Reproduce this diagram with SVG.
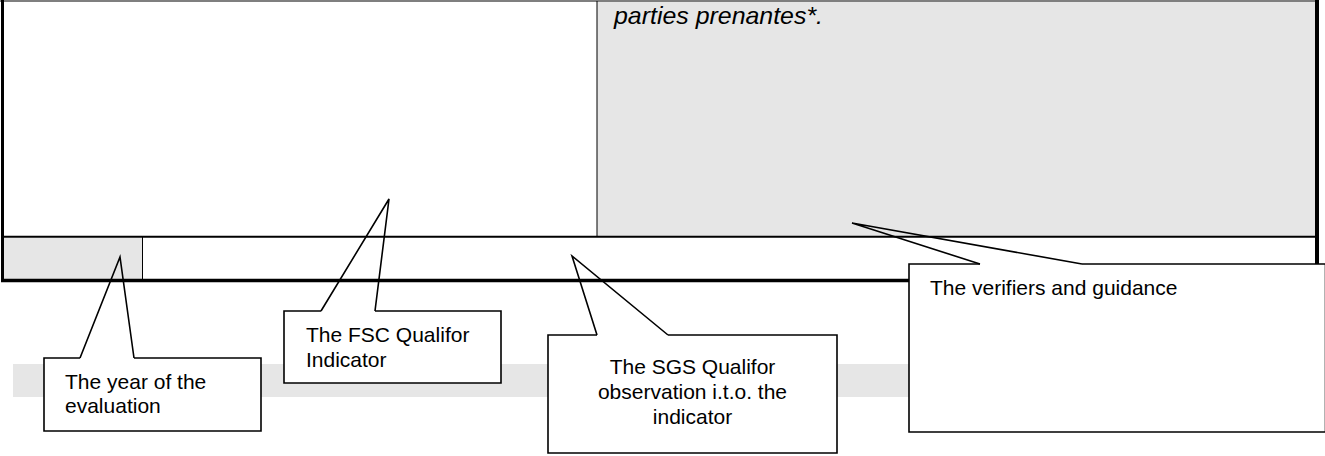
<svg xmlns="http://www.w3.org/2000/svg" width="1325" height="456" viewBox="0 0 1325 456">
<style>
.t{font-family:"Liberation Sans",Arial,sans-serif;font-size:21px;fill:#000}
.it{font-family:"Liberation Sans",Arial,sans-serif;font-size:24px;font-style:italic;fill:#000}
.gray{fill:#e6e6e6}
.box{fill:#fff;stroke:none}
.outline{fill:none;stroke:#000;stroke-width:1.6;stroke-linejoin:miter}
.ptr{fill:none;stroke:#000;stroke-width:1.6;stroke-linejoin:miter}
</style>
<rect width="1325" height="456" fill="#fff"/>
<g id="table">
  <rect class="gray" x="597" y="2" width="718" height="235"/>
  <rect class="gray" x="4" y="238" width="139" height="41"/>
  <rect class="gray" x="13" y="364" width="1000" height="33"/>
  <line x1="0" y1="1" x2="1319" y2="1" stroke="#000" stroke-width="1.2"/>
  <line x1="597" y1="1" x2="597" y2="237" stroke="#000" stroke-width="1"/>
  <line x1="142.5" y1="237" x2="142.5" y2="280" stroke="#000" stroke-width="1"/>
  <line x1="3" y1="236.8" x2="1317" y2="236.8" stroke="#000" stroke-width="2"/>
  <line x1="2.5" y1="0" x2="2.5" y2="282" stroke="#000" stroke-width="3"/>
  <line x1="1317" y1="0" x2="1317" y2="282" stroke="#000" stroke-width="4"/>
  <line x1="1" y1="280.5" x2="1319" y2="280.5" stroke="#000" stroke-width="3.5"/>
  <text class="it" x="614" y="24" textLength="209" lengthAdjust="spacingAndGlyphs">parties prenantes*.</text>
</g>
<g id="callout-year">
  <rect class="box" x="44" y="358" width="217" height="73"/>
  <path class="outline" d="M80,358 L44,358 L44,431 L261,431 L261,358 L134,358"/>
  <text class="t" x="65" y="389">The year of the</text>
  <text class="t" x="65" y="413">evaluation</text>
</g>
<g id="callout-fsc">
  <rect class="box" x="284" y="311" width="217" height="72"/>
  <path class="outline" d="M321,311 L284,311 L284,383 L501,383 L501,311 L375,311"/>
  <text class="t" x="306" y="342">The FSC Qualifor</text>
  <text class="t" x="306" y="367">Indicator</text>
</g>
<g id="callout-sgs">
  <rect class="box" x="548" y="335" width="289" height="118"/>
  <path class="outline" d="M597,335 L548,335 L548,453 L837,453 L837,335 L668,335"/>
  <text class="t" x="692.5" y="374" text-anchor="middle">The SGS Qualifor</text>
  <text class="t" x="692.5" y="399" text-anchor="middle">observation i.t.o. the</text>
  <text class="t" x="692.5" y="424" text-anchor="middle">indicator</text>
</g>
<g id="callout-verifiers">
  <rect class="box" x="909" y="264" width="417" height="168"/>
  <path class="outline" d="M980,264 L909,264 L909,432 L1325.5,432 L1325.5,264 L1082,264"/>
  <text class="t" x="930" y="295">The verifiers and guidance</text>
</g>
<g id="connectors">
  <polyline class="ptr" points="80,358 120,257 134,358"/>
  <polyline class="ptr" points="321,311 389,199 375,311"/>
  <polyline class="ptr" points="597,335 572,256 668,335"/>
  <polyline class="ptr" points="980,264 852,223 1082,264"/>
</g>
</svg>
